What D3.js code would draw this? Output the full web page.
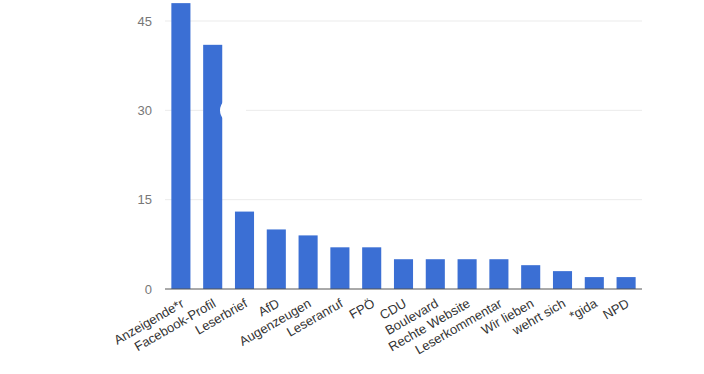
<!DOCTYPE html>
<html>
<head>
<meta charset="utf-8">
<script src="https://cdn.jsdelivr.net/npm/d3@7"></script>
<style>
  body { margin: 0; background: #fff; }
  svg { display: block; font-family: "Liberation Sans", Arial, sans-serif; }
</style>
</head>
<body>
<script>
// data
var categories = ["Anzeigende*r", "Facebook-Profil", "Leserbrief", "AfD", "Augenzeugen",
                  "Leseranruf", "FPÖ", "CDU", "Boulevard", "Rechte Website",
                  "Leserkommentar", "Wir lieben", "wehrt sich", "*gida", "NPD"];
var values = [48, 41, 13, 10, 9, 7, 7, 5, 5, 5, 5, 4, 3, 2, 2];
var yTicks = [0, 15, 30, 45];

var W = 704, H = 374;
var margin = {top: 21, left: 165, right: 62, bottom: 85};
var width = W - margin.left - margin.right,
    height = H - margin.top - margin.bottom;

var svg = d3.select("body").append("svg")
    .attr("width", W).attr("height", H);
var g = svg.append("g")
    .attr("transform", "translate(" + margin.left + "," + margin.top + ")");

var x = d3.scaleBand().domain(categories).range([0, width]).paddingInner(0.4).paddingOuter(0.2);
var y = d3.scaleLinear().domain([0, 45]).range([height, 0]);

// gridlines
g.selectAll(".grid").data(yTicks.filter(function(d) { return d > 0; }))
  .enter().append("line")
    .attr("x1", 0).attr("x2", width)
    .attr("y1", function(d) { return y(d); }).attr("y2", function(d) { return y(d); })
    .attr("stroke", "#ebebeb").attr("stroke-width", 1);

// y tick labels
g.selectAll(".ylab").data(yTicks).enter().append("text")
    .attr("x", -13).attr("y", function(d) { return y(d); })
    .attr("dy", "0.35em").attr("text-anchor", "end")
    .attr("font-size", 13).attr("fill", "#777")
    .text(function(d) { return d; });

// bars
g.selectAll(".bar").data(values).enter().append("rect")
    .attr("x", function(d, i) { return x(categories[i]); })
    .attr("y", function(d) { return y(d); })
    .attr("width", x.bandwidth())
    .attr("height", function(d) { return y(0) - y(d); })
    .attr("fill", "#3b6fd4");

// white blot over the second bar
g.append("circle")
    .attr("cx", 233 - margin.left).attr("cy", y(30))
    .attr("r", 13).attr("fill", "#fff");

// baseline
g.append("line")
    .attr("x1", 0).attr("x2", width)
    .attr("y1", y(0)).attr("y2", y(0))
    .attr("stroke", "#555").attr("stroke-width", 1);

// x labels, rotated
g.selectAll(".xlab").data(categories).enter().append("text")
    .attr("transform", function(d) {
        return "translate(" + (x(d) + x.bandwidth() / 2 + 4) + "," + (height + 17) + ") rotate(-30)";
    })
    .attr("text-anchor", "end")
    .attr("font-size", 13).attr("fill", "#333")
    .text(function(d) { return d; });
</script>
</body>
</html>
